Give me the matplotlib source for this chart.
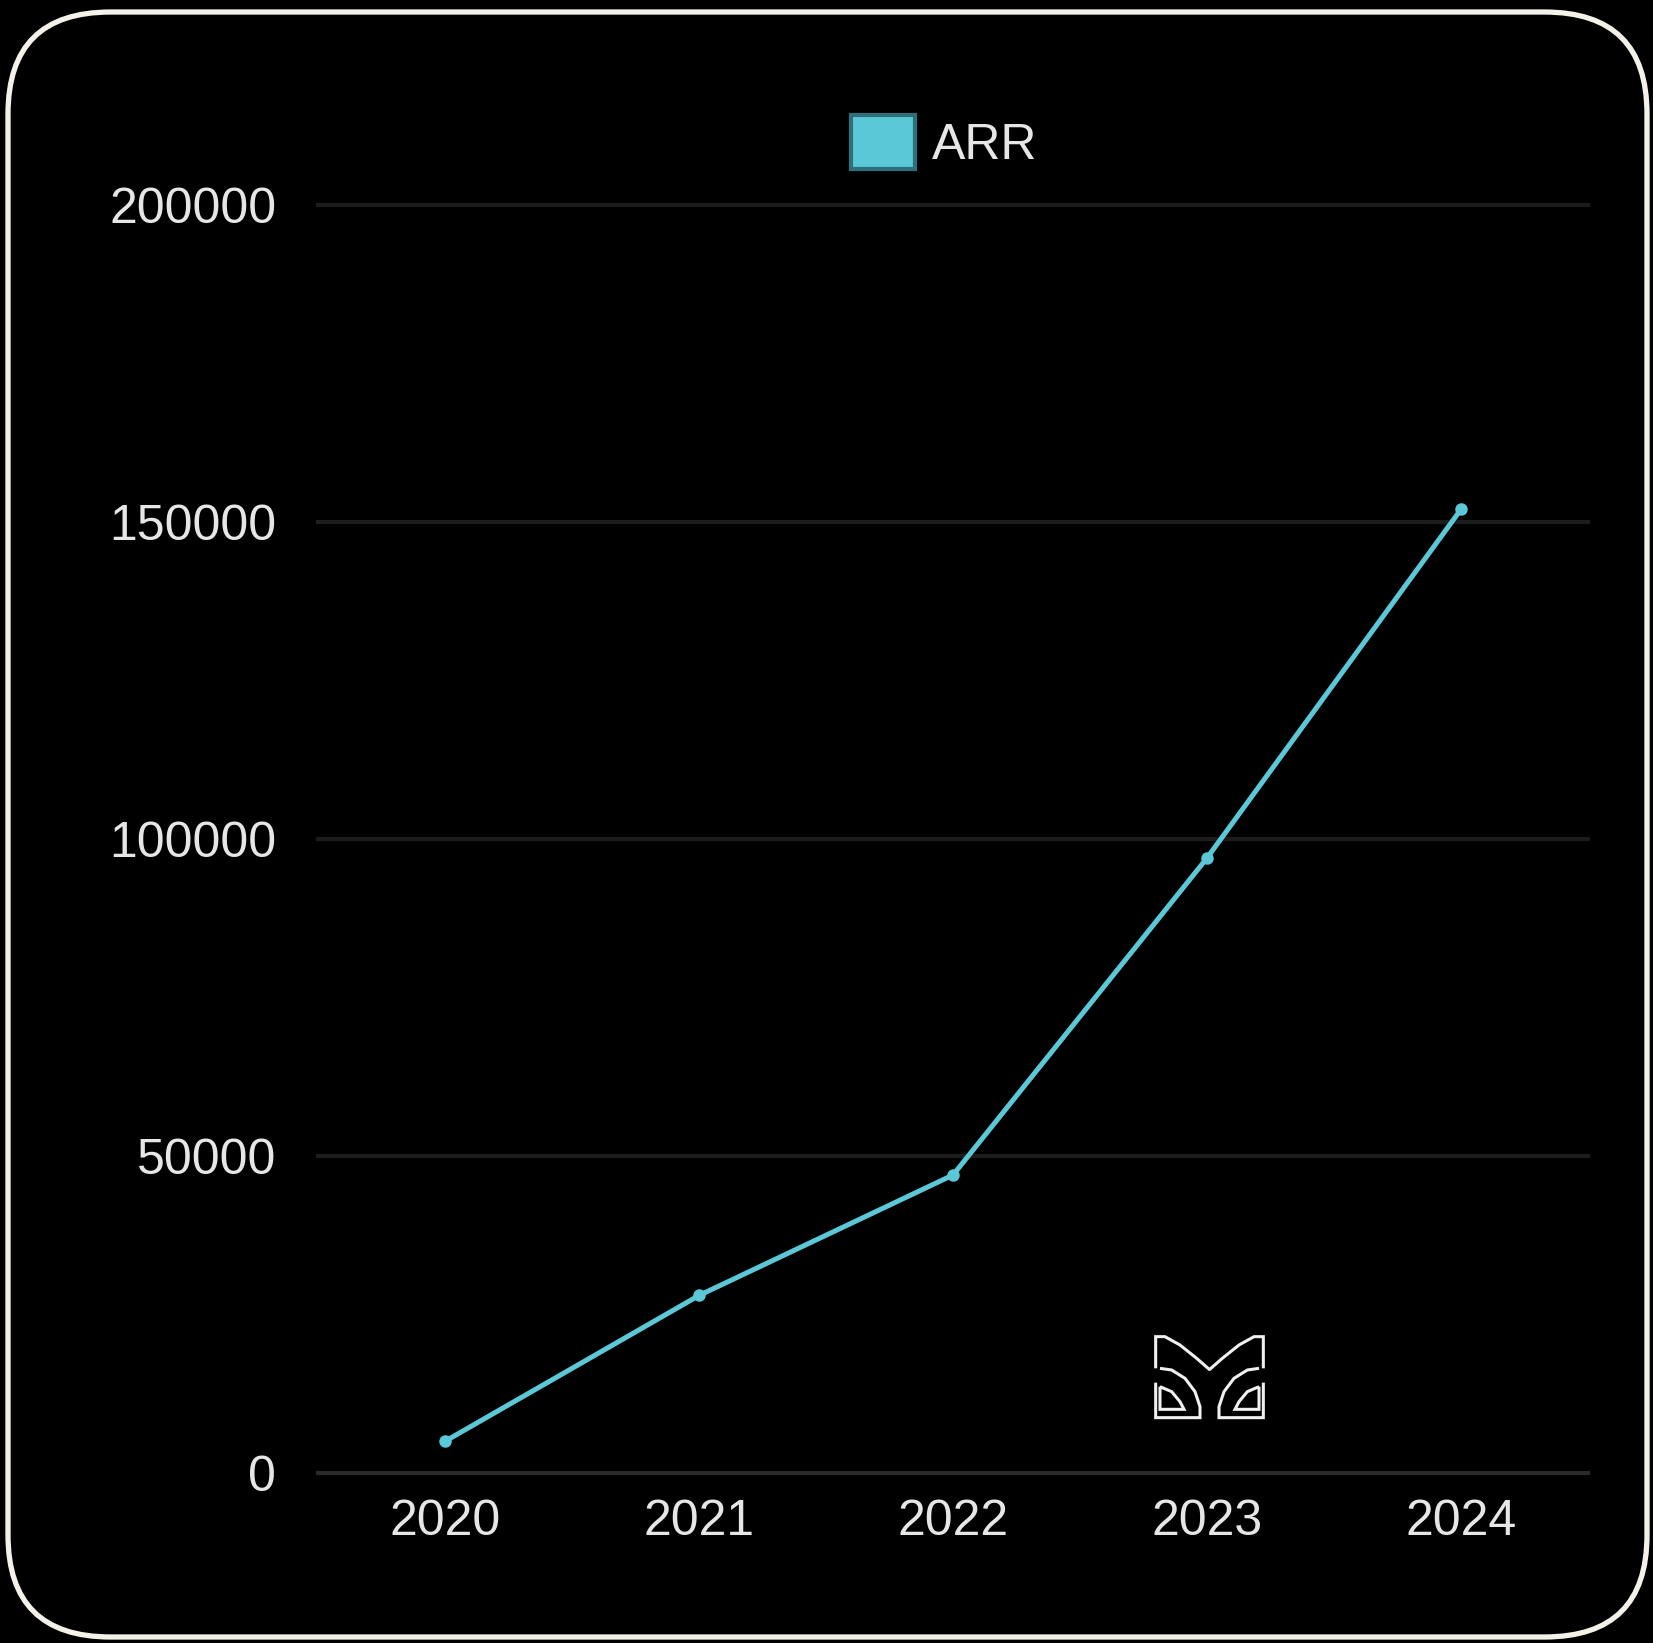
import numpy as np
import matplotlib
matplotlib.use('Agg')
import matplotlib.pyplot as plt
from matplotlib.patches import FancyBboxPatch, Patch
from matplotlib.path import Path
from matplotlib.patches import PathPatch

# data
years = ['2020', '2021', '2022', '2023', '2024']
arr = [5000, 28000, 47000, 97000, 152000]
y_ticks = [0, 50000, 100000, 150000, 200000]

W, H = 1653, 1643
line_col = '#5bc8d8'
text_col = '#e6e6e6'

plt.rcParams['font.family'] = ['Liberation Sans', 'DejaVu Sans']

fig = plt.figure(figsize=(W / 100, H / 100), dpi=100)
fig.patch.set_facecolor('black')


def fx(x):
    return x / W


def fy(y):
    return 1 - y / H


# rounded card border
card = FancyBboxPatch((fx(8), fy(1637)), fx(1647) - fx(8), fy(12) - fy(1637),
                      boxstyle='round,pad=0,rounding_size=0.062',
                      transform=fig.transFigure, facecolor='none',
                      edgecolor='#f4f2e8', linewidth=3.8, zorder=-1)
fig.patches.append(card)

ax = fig.add_axes([fx(318), fy(1473), fx(1588) - fx(318), fy(205) - fy(1473)])
ax.set_facecolor('none')

x = np.arange(len(years))
ax.plot(x, arr, color=line_col, linewidth=3.6, marker='o', markersize=9,
        markeredgewidth=0, zorder=3, solid_capstyle='round')

ax.set_xlim(-0.5, len(years) - 0.5)
ax.set_ylim(0, 200000)
ax.set_xticks(x)
ax.set_xticklabels(years)
ax.set_yticks(y_ticks)
ax.set_yticklabels([str(v) for v in y_ticks])

for v in y_ticks:
    ax.axhline(v, color='#2a2a2a' if v == 0 else '#1c1c1c', linewidth=3, zorder=1,
               clip_on=False)

for s in ax.spines.values():
    s.set_visible(False)
ax.tick_params(axis='both', length=0, labelsize=36, labelcolor=text_col)
ax.tick_params(axis='y', pad=30)
ax.tick_params(axis='x', pad=19)

# legend
handle = Patch(facecolor=line_col, edgecolor='#2d6f7a', linewidth=3, label='ARR')
leg = fig.legend(handles=[handle], loc='center', bbox_to_anchor=(fx(944), fy(142)),
                 frameon=False, fontsize=36, handlelength=1.28, handleheight=1.28,
                 handletextpad=0.34, borderpad=0, labelcolor=text_col)

# watermark logo (outline), drawn in pixel units then mapped to figure
x0, y0, s = 1100, 1320, 1 / 3


def lp(pts):
    return [(fx(x0 + a * s), fy(y0 + b * s)) for a, b in pts]


left_parts = [
    [(167, 145), (167, 50), (195, 50), (240, 75), (290, 115), (330, 150)],
    [(180, 145), (215, 150), (255, 175), (285, 215), (300, 260), (300, 293), (167, 293), (167, 188)],
    [(180, 200), (215, 215), (240, 245), (252, 268), (180, 268), (180, 200)],
]
for part in left_parts:
    for mirror in (False, True):
        pts = [(657 - a, b) for a, b in part] if mirror else part
        path = Path(lp(pts))
        fig.patches.append(PathPatch(path, transform=fig.transFigure, facecolor='none',
                                     edgecolor='#f0f0f0', linewidth=2.2, joinstyle='miter'))

fig.savefig('out.png', dpi=100, facecolor=fig.get_facecolor())
